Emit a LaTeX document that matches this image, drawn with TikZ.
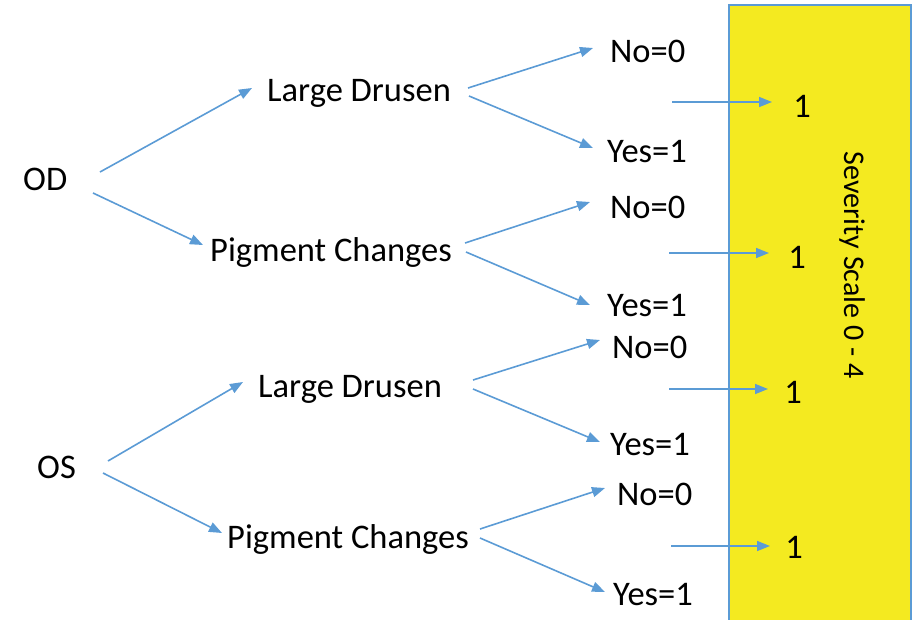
\documentclass[tikz,border=0pt]{standalone}
\usepackage{fontspec}
\setmainfont{Carlito}
\usetikzlibrary{arrows.meta}
\definecolor{arrblue}{RGB}{91,155,213}
\definecolor{boxyellow}{RGB}{244,234,32}
\tikzset{
  lbl/.style={inner sep=0pt, anchor=base west, font=\fontsize{34.5}{41}\selectfont},
  score/.style={inner sep=0pt, anchor=base, font=\fontsize{34.5}{41}\selectfont},
  arr/.style={draw=arrblue, line width=1.6pt, -{Triangle[length=13pt,width=10pt]}},
}
\begin{document}
\begin{tikzpicture}[x=1pt,y=-1pt]
\useasboundingbox (0,0) rectangle (918,619);
% yellow scale box
\draw[fill=boxyellow, draw=arrblue, line width=2pt] (729,5) rectangle (911,640);
\node[rotate=-90, inner sep=0pt, font=\fontsize{30}{36}\selectfont] (sev) at (852,265) {Severity Scale 0 - 4};

% text nodes
\node[lbl] (od)  at (23,190)  {OD};
\node[lbl] (ld1) at (267,101) {Large Drusen};
\node[lbl] (pc1) at (210,261) {Pigment Changes};
\node[lbl] (n1)  at (610,62)  {No=0};
\node[lbl] (y1)  at (607,162) {Yes=1};
\node[lbl] (n2)  at (610,218) {No=0};
\node[lbl] (y2)  at (607,316) {Yes=1};
\node[lbl] (os)  at (37,478)  {OS};
\node[lbl] (ld2) at (258,397) {Large Drusen};
\node[lbl] (pc2) at (227,548) {Pigment Changes};
\node[lbl] (n3)  at (612,358) {No=0};
\node[lbl] (y3)  at (610,455) {Yes=1};
\node[lbl] (n4)  at (617,505) {No=0};
\node[lbl] (y4)  at (613,605) {Yes=1};
\node[score] (s1) at (802,117) {1};
\node[score] (s2) at (797,268) {1};
\node[score] (s3) at (793,403) {1};
\node[score] (s4) at (794,558) {1};

% free starts of score arrows
\coordinate (a1) at (672,102);
\coordinate (a2) at (669,253);
\coordinate (a3) at (669,389);
\coordinate (a4) at (671,546);

% tree connectors
\draw[arr] ([shift={(77,-18)}]od.base west) -- ([shift={(-15,-13)}]ld1.base west);
\draw[arr] ([shift={(70,3)}]od.base west) -- ([shift={(-7,-16)}]pc1.base west);
\draw[arr] ([shift={(201,-13)}]ld1.base west) -- ([shift={(-17,-14)}]n1.base west);
\draw[arr] ([shift={(202,-5)}]ld1.base west) -- ([shift={(-14,-14)}]y1.base west);
\draw[arr] ([shift={(255,-18)}]pc1.base west) -- ([shift={(-20,-16)}]n2.base west);
\draw[arr] ([shift={(256,-9)}]pc1.base west) -- ([shift={(-17,-11)}]y2.base west);
\draw[arr] ([shift={(71,-17)}]os.base west) -- ([shift={(-15,-15)}]ld2.base west);
\draw[arr] ([shift={(66,-5)}]os.base west) -- ([shift={(-5,-15)}]pc2.base west);
\draw[arr] ([shift={(215,-17)}]ld2.base west) -- ([shift={(-12,-18)}]n3.base west);
\draw[arr] ([shift={(215,-8)}]ld2.base west) -- ([shift={(-10,-13)}]y3.base west);
\draw[arr] ([shift={(253,-19)}]pc2.base west) -- ([shift={(-12,-17)}]n4.base west);
\draw[arr] ([shift={(253,-10)}]pc2.base west) -- ([shift={(-8,-13)}]y4.base west);

% score connectors
\draw[arr] (a1) -- ([shift={(-30,-15)}]s1.base);
\draw[arr] (a2) -- ([shift={(-28,-15)}]s2.base);
\draw[arr] (a3) -- ([shift={(-25,-14)}]s3.base);
\draw[arr] (a4) -- ([shift={(-24,-12)}]s4.base);
\end{tikzpicture}
\end{document}
